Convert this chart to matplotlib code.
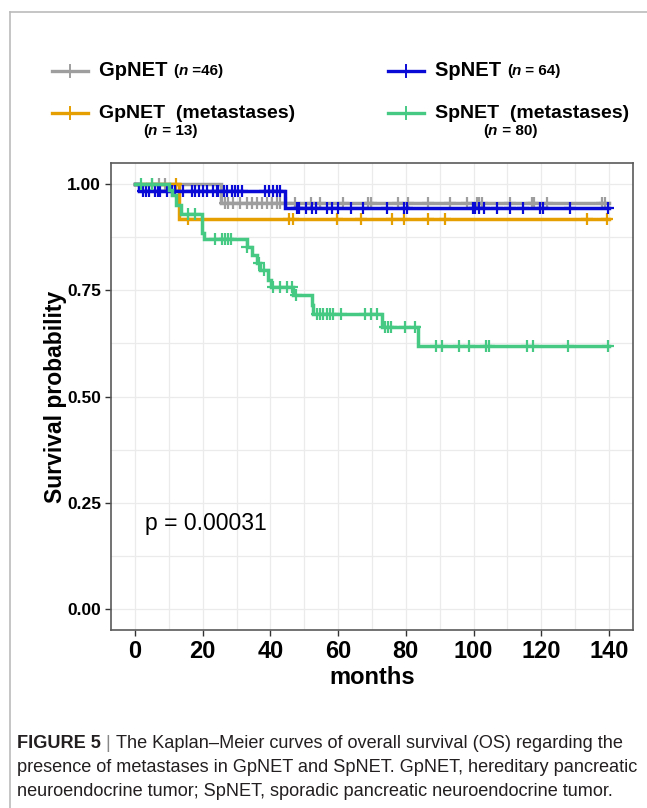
import numpy as np
import matplotlib
matplotlib.use("Agg")
import matplotlib.pyplot as plt

plt.rcParams['font.family'] = ['Liberation Sans', 'DejaVu Sans']

# ---- data ----
# GpNET (n=46)
gp_t = [0, 25.3]
gp_s = [1.0, 0.955]
gp_cens = [4.9, 7.0, 9.0, 26.6, 27.6, 29.0, 31.0, 33.0, 34.5, 36.0, 37.4, 38.9, 40.4, 41.8, 42.8,
           44.6, 47.3, 51.9, 54.6, 61.5, 68.9, 69.6, 77.8, 80.7, 86.6, 93.0, 98.0, 100.9, 101.7,
           102.4, 110.7, 117.2, 117.8, 121.6, 137.8, 138.8]

# GpNET metastases (n=13)
gpm_t = [0, 13.1]
gpm_s = [1.0, 0.917]
gpm_cens = [12.0, 15.7, 45.6, 46.6, 59.7, 66.7, 75.8, 79.4, 86.6, 91.6, 133.6, 139.5]

# SpNET (n=64)
sp_t = [0, 1.2, 44.2]
sp_s = [1.0, 0.984, 0.943]
sp_cens = [2.5, 3.2, 4.0, 5.9, 6.9, 7.4, 9.4, 10.9, 11.8, 14.3, 16.7, 17.7, 18.9, 20.2, 21.2,
           23.1, 24.1, 24.6, 26.4, 27.1, 28.7, 29.5, 30.5, 31.5, 38.4, 39.6, 40.8, 41.8, 42.8,
           47.8, 48.5, 50.5, 52.2, 53.5, 56.6, 58.1, 60.0, 63.7, 67.4, 74.5, 79.4, 80.2, 99.7,
           100.4, 101.7, 103.1, 106.8, 110.7, 114.5, 119.6, 120.6, 128.5, 139.8]

# SpNET metastases (n=80)
spm_t = [0, 10.0, 11.0, 12.0, 13.5, 19.7, 20.5, 33.0, 34.5, 36.0, 37.0, 39.3, 40.3, 46.7,
         52.2, 52.7, 72.9, 83.7]
spm_s = [1.0, 0.987, 0.975, 0.95, 0.93, 0.884, 0.870, 0.853, 0.833, 0.814, 0.797, 0.774,
         0.759, 0.738, 0.715, 0.695, 0.664, 0.618]
spm_cens = [1.8, 5.0, 15.6, 17.7, 23.6, 25.6, 26.6, 27.6, 28.4, 33.0, 36.5, 38.0, 40.8, 42.8,
            44.8, 46.3, 47.5, 53.7, 54.6, 55.6, 56.6, 57.6, 58.6, 60.8, 67.9, 69.6, 71.6,
            73.8, 74.6, 75.5, 79.7, 82.7, 88.9, 90.7, 95.8, 98.7, 103.7, 104.6, 115.9, 117.6,
            128.0, 139.8]

t_end = 140
xticks = [0, 20, 40, 60, 80, 100, 120, 140]
yticks = [0.0, 0.25, 0.5, 0.75, 1.0]

c_gray = '#9E9E9E'
c_orange = '#E69F00'
c_blue = '#0A0AD6'
c_green = '#45C983'

fig = plt.figure(figsize=(6.47, 8.08), dpi=100)
ax = fig.add_axes([111.3/647, 1-630/808, (632.7-111.3)/647, (630-163)/808])


def km(t, s, cens, col):
    tt = list(t) + [t_end]
    ss = list(s) + [s[-1]]
    ax.step(tt, ss, where='post', color=col, lw=2.5, solid_joinstyle='miter', zorder=3)
    idx = np.searchsorted(np.array(t), np.array(cens), side='right') - 1
    ax.plot(cens, np.array(s)[idx], ls='none', marker='+', ms=9, mew=1.6, color=col, zorder=3)


km(gp_t, gp_s, gp_cens, c_gray)
km(gpm_t, gpm_s, gpm_cens, c_orange)
km(sp_t, sp_s, sp_cens, c_blue)
km(spm_t, spm_s, spm_cens, c_green)

ax.set_xlim(-7, 147)
ax.set_ylim(-0.05, 1.05)
ax.set_xticks(xticks)
ax.set_xticks([10, 30, 50, 70, 90, 110, 130], minor=True)
ax.set_yticks(yticks)
ax.set_yticks([0.125, 0.375, 0.625, 0.875], minor=True)
ax.set_yticklabels(['0.00', '0.25', '0.50', '0.75', '1.00'])
ax.grid(True, which='both', color='#EBEBEB', lw=0.9, zorder=0)
ax.set_axisbelow(True)
for s in ax.spines.values():
    s.set_color('#5A5A5A')
    s.set_linewidth(1.2)
ax.tick_params(which='minor', length=0)
ax.tick_params(which='major', length=4, width=1, color='#333333')
for lab in ax.get_xticklabels():
    lab.set_fontsize(17)
    lab.set_fontweight('bold')
for lab in ax.get_yticklabels():
    lab.set_fontsize(12.5)
    lab.set_fontweight('bold')
ax.set_xlabel('months', fontsize=17, fontweight='bold', labelpad=2)
ax.set_ylabel('Survival probability', fontsize=16.5, fontweight='bold', labelpad=0)
ax.text(3, 0.2, 'p = 0.00031', fontsize=16.5, ha='left', va='center')

# ---- legend (built by hand) ----
def px(x, y):
    return x/647, 1-y/808


def legend_entry(x0, y, col, pieces):
    fig.add_artist(plt.Line2D([x0/647, (x0+36)/647], [1-y/808]*2, color=col, lw=2.4))
    fig.add_artist(plt.Line2D([(x0+18)/647]*2, [1-(y-6)/808, 1-(y+6)/808], color=col, lw=1.4))
    r = fig.canvas.get_renderer()
    x = x0 + 47
    for txt, size, style in pieces:
        t = fig.text(*px(x, y), txt, fontsize=size, fontweight='bold', style=style,
                     ha='left', va='center')
        x += t.get_window_extent(r).width


legend_entry(52, 71, c_gray, [('GpNET ', 14.5, 'normal'), ('(', 11, 'normal'),
                              ('n', 11, 'italic'), (' =46)', 11, 'normal')])
legend_entry(388, 71, c_blue, [('SpNET ', 14.5, 'normal'), ('(', 11, 'normal'),
                               ('n', 11, 'italic'), (' = 64)', 11, 'normal')])
legend_entry(52, 113, c_orange, [('GpNET  (metastases)', 14, 'normal')])
legend_entry(388, 113, c_green, [('SpNET  (metastases)', 14, 'normal')])

for xc, num in [(170, '13'), (510, '80')]:
    r = fig.canvas.get_renderer()
    items = [('(', 'normal'), ('n', 'italic'), (' = ' + num + ')', 'normal')]
    objs = []
    for txt, st in items:
        objs.append(fig.text(0, 0, txt, fontsize=11, fontweight='bold', style=st,
                             ha='left', va='center'))
    widths = [o.get_window_extent(r).width for o in objs]
    x = xc - sum(widths)/2
    for o, w in zip(objs, widths):
        o.set_position(px(x, 131))
        x += w

# ---- frame around the panel ----
fig.add_artist(plt.Line2D([10/647, 1], [1-12/808]*2, color='#BBBBBB', lw=1.2))
fig.add_artist(plt.Line2D([10/647]*2, [1-12/808, 0], color='#BBBBBB', lw=1.2))

# ---- caption ----
r = fig.canvas.get_renderer()
cap_col = '#231F20'
lines = ['presence of metastases in GpNET and SpNET. GpNET, hereditary pancreatic',
         'neuroendocrine tumor; SpNET, sporadic pancreatic neuroendocrine tumor.']
probe = fig.text(0, 0, lines[0], fontsize=12)
fs = 12 * (640-17) / probe.get_window_extent(r).width
probe.remove()

t1 = fig.text(*px(17, 743), 'FIGURE 5', fontsize=fs, fontweight='bold', color=cap_col, va='center')
x = 17 + t1.get_window_extent(r).width
t2 = fig.text(*px(x, 743), ' | ', fontsize=fs, color='#888888', va='center')
x += t2.get_window_extent(r).width
fig.text(*px(x, 743), 'The Kaplan\u2013Meier curves of overall survival (OS) regarding the',
         fontsize=fs, color=cap_col, va='center')
fig.text(*px(17, 768), lines[0], fontsize=fs, color=cap_col, va='center')
fig.text(*px(17, 792), lines[1], fontsize=fs, color=cap_col, va='center')

fig.savefig('out.png', dpi=100)
